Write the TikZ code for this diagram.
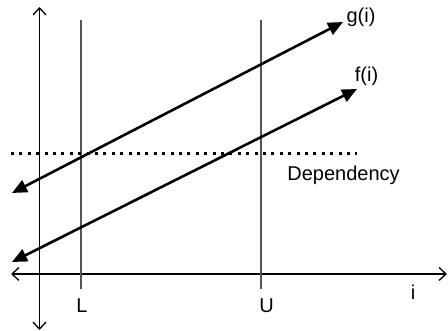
\documentclass[tikz,border=0pt]{standalone}
\usepackage{fontspec}
\setmainfont{Liberation Sans}
\usepackage{tikz}
\usetikzlibrary{arrows.meta}
\definecolor{axGray}{HTML}{555555}

\begin{document}
\begin{tikzpicture}[
  x=1pt, y=-1pt,
  font=\fontsize{20}{24}\selectfont,
  axis/.style  = {{Straight Barb[length=7pt,width=13pt]}-{Straight Barb[length=7pt,width=13pt]},
                  line width=1.3pt, black},
  bound/.style = {line width=1.5pt, draw=axGray},
  func/.style  = {{Triangle[length=15pt,width=13pt]}-{Triangle[length=15pt,width=13pt]},
                  line width=2.6pt, black},
  dep/.style   = {line width=3pt, dash pattern=on 3pt off 5.4pt},
  lbl/.style   = {inner sep=0pt, anchor=center},
]
\useasboundingbox (0,0) rectangle (448,331);

%── Axes ──────────────────────────────────────────────────────────────────────
\coordinate (vtop) at (39.5,7);
\coordinate (vbot) at (39.5,330);
\coordinate (hlft) at (11,274);
\coordinate (hrgt) at (447,274);
\draw[axis] (vbot) -- (vtop);
\draw[axis] (hlft) -- (hrgt);

%── Bounds L and U ────────────────────────────────────────────────────────────
\coordinate (Ltop) at (81,20);
\coordinate (Lbot) at (81,289);
\coordinate (Utop) at (261,20);
\coordinate (Ubot) at (261,289);
\draw[bound] (Ltop) -- (Lbot);
\draw[bound] (Utop) -- (Ubot);
\node[lbl] (Llbl) at (82,306) {L};
\node[lbl] (Ulbl) at (266.5,306) {U};
\node[lbl] (ilbl) at (413,292) {i};

%── Dependency threshold ──────────────────────────────────────────────────────
\coordinate (dlft) at (11,154);
\coordinate (drgt) at (357,154);
\draw[dep] (dlft) -- (drgt);
\node[lbl] (deplbl) at (343.5,175) {Dependency};

%── Functions g(i) and f(i) ───────────────────────────────────────────────────
\coordinate (glft) at (12,193);
\coordinate (grgt) at (343,22);
\coordinate (flft) at (12,262);
\coordinate (frgt) at (357,89);
\draw[func] (glft) -- (grgt);
\draw[func] (flft) -- (frgt);
\node[lbl] (glbl) at (361,17) {g(i)};
\node[lbl] (flbl) at (366.5,76) {f(i)};

\end{tikzpicture}
\end{document}
